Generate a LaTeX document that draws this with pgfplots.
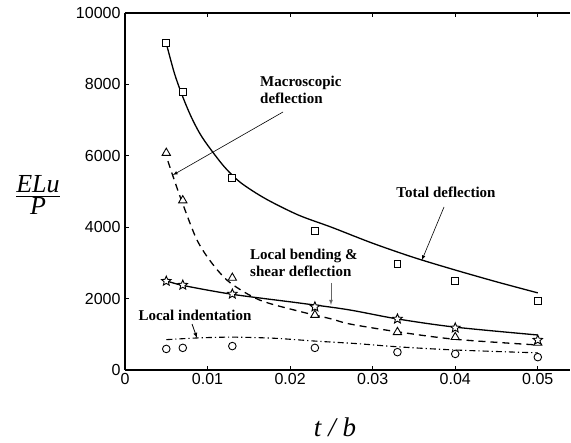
\documentclass[border=0pt]{standalone}
\usepackage{fontspec}
\setmainfont{Liberation Serif}
\newfontfamily\ticksans{Liberation Sans}
\usepackage{pgfplots}
\pgfplotsset{compat=1.18}
\pgfdeclareplotmark{hstar}{%
  \pgfpathmoveto{\pgfpointpolar{90}{\pgfplotmarksize}}%
  \pgfpathlineto{\pgfpointpolar{126}{0.45\pgfplotmarksize}}%
  \pgfpathlineto{\pgfpointpolar{162}{\pgfplotmarksize}}%
  \pgfpathlineto{\pgfpointpolar{198}{0.45\pgfplotmarksize}}%
  \pgfpathlineto{\pgfpointpolar{234}{\pgfplotmarksize}}%
  \pgfpathlineto{\pgfpointpolar{270}{0.45\pgfplotmarksize}}%
  \pgfpathlineto{\pgfpointpolar{306}{\pgfplotmarksize}}%
  \pgfpathlineto{\pgfpointpolar{342}{0.45\pgfplotmarksize}}%
  \pgfpathlineto{\pgfpointpolar{18}{\pgfplotmarksize}}%
  \pgfpathlineto{\pgfpointpolar{54}{0.45\pgfplotmarksize}}%
  \pgfpathclose
  \pgfusepathqfillstroke}
\begin{document}
\begin{tikzpicture}
\begin{axis}[
  scale only axis,
  width=445pt, height=357pt,
  xmin=0, xmax=0.0539, ymin=0, ymax=10000,
  axis x line=box, axis y line=left,
  axis line style={line width=1.8pt, -},
  xtick={0,0.01,0.02,0.03,0.04,0.05},
  ytick={0,2000,4000,6000,8000,10000},
  scaled ticks=false,
  /pgf/number format/assume math mode=true,
  xticklabel={\pgfmathprintnumber[fixed]{\tick}},
  yticklabel={\pgfmathprintnumber[fixed,1000 sep={}]{\tick}},
  tick align=inside,
  major tick length=4pt,
  tick style={line width=1.2pt, black},
  ticklabel style={font=\ticksans\fontsize{16}{19}\selectfont},
  xticklabel style={yshift=0pt},
  yticklabel style={xshift=-1pt},
  clip=false,
]
\coordinate (bl) at (rel axis cs:0,0);
\coordinate (tr) at (rel axis cs:1,1);
% curves
\addplot[black, line width=1.3pt, smooth, tension=0.5] coordinates {
(0.005,9150) (0.006,8300) (0.007,7650) (0.008,7100) (0.009,6650) (0.010,6300)
(0.012,5700) (0.014,5250) (0.017,4800) (0.021,4340) (0.025,4000) (0.030,3550)
(0.035,3150) (0.040,2800) (0.045,2470) (0.050,2160)};
\addplot[black, line width=1.3pt, dash pattern=on 7pt off 5pt, smooth, tension=0.5] coordinates {
(0.0052,5850) (0.006,5300) (0.007,4650) (0.0087,3650) (0.0105,3000) (0.0127,2450)
(0.0163,1960) (0.021,1650) (0.025,1430) (0.0272,1290) (0.033,1070) (0.040,860) (0.050,700)};
\addplot[black, line width=1.3pt, smooth, tension=0.5] coordinates {
(0.005,2500) (0.007,2370) (0.013,2120) (0.021,1880) (0.027,1690) (0.033,1430)
(0.040,1200) (0.050,980)};
\addplot[black, line width=1.1pt, dash pattern=on 6pt off 3pt on 1.2pt off 3pt, smooth, tension=0.5] coordinates {
(0.005,850) (0.009,900) (0.013,920) (0.018,890) (0.023,810) (0.028,740) (0.033,650)
(0.040,560) (0.050,480)};
% markers
\addplot[only marks, mark=square*, mark size=3.4pt, mark options={fill=white, draw=black, line width=0.9pt}] coordinates {
(0.005,9150) (0.007,7790) (0.013,5380) (0.023,3890) (0.033,2970) (0.040,2490) (0.050,1930)};
\addplot[only marks, mark=triangle*, mark size=4.8pt, mark options={fill=white, draw=black, line width=0.9pt}] coordinates {
(0.005,6080) (0.007,4750) (0.013,2580) (0.023,1540) (0.033,1060) (0.040,920) (0.050,760)};
\addplot[only marks, mark=hstar, mark size=5pt, mark options={fill=white, draw=black, line width=0.9pt}] coordinates {
(0.005,2490) (0.007,2380) (0.013,2130) (0.023,1770) (0.033,1430) (0.040,1180) (0.050,840)};
\addplot[only marks, mark=*, mark size=3.8pt, mark options={fill=white, draw=black, line width=0.9pt}] coordinates {
(0.005,590) (0.007,620) (0.013,670) (0.023,620) (0.033,500) (0.040,450) (0.050,360)};
% annotations
\node[anchor=west, align=left, font=\bfseries\fontsize{15}{17}\selectfont, inner sep=0pt] at (axis cs:0.01635,7843) {Macroscopic\\deflection};
\draw[-{latex}, line width=0.6pt] (axis cs:0.01914,7227) -- (axis cs:0.00581,5462);
\node[font=\bfseries\fontsize{15}{17}\selectfont, inner sep=0pt] at (axis cs:0.03888,4986) {Total deflection};
\draw[-{latex}, line width=0.6pt] (axis cs:0.03864,4566) -- (axis cs:0.03597,3081);
\node[anchor=west, align=left, font=\bfseries\fontsize{15}{17}\selectfont, inner sep=0pt] at (axis cs:0.01514,2997) {Local bending \&\\shear deflection};
\draw[-{latex}, line width=0.8pt, black!60] (axis cs:0.02495,2437) -- (axis cs:0.02495,1821);
\node[font=\bfseries\fontsize{15}{17}\selectfont, inner sep=0pt] at (axis cs:0.00848,1541) {Local indentation};
\draw[-{latex}, line width=0.8pt] (axis cs:0.00812,1288) -- (axis cs:0.00872,896);
\end{axis}
\node[font=\fontsize{26}{30}\selectfont] at ([shift={(-87pt,175pt)}]bl) {$\frac{\textit{ELu}}{\textit{P}}$};
\node[font=\fontsize{27}{30}\selectfont\itshape] at ([shift={(210pt,-57pt)}]bl) {t / b};
\pgfresetboundingbox
\path[use as bounding box] ([shift={(-125pt,-73pt)}]bl) rectangle ([shift={(1pt,13pt)}]tr);
\end{tikzpicture}
\end{document}
